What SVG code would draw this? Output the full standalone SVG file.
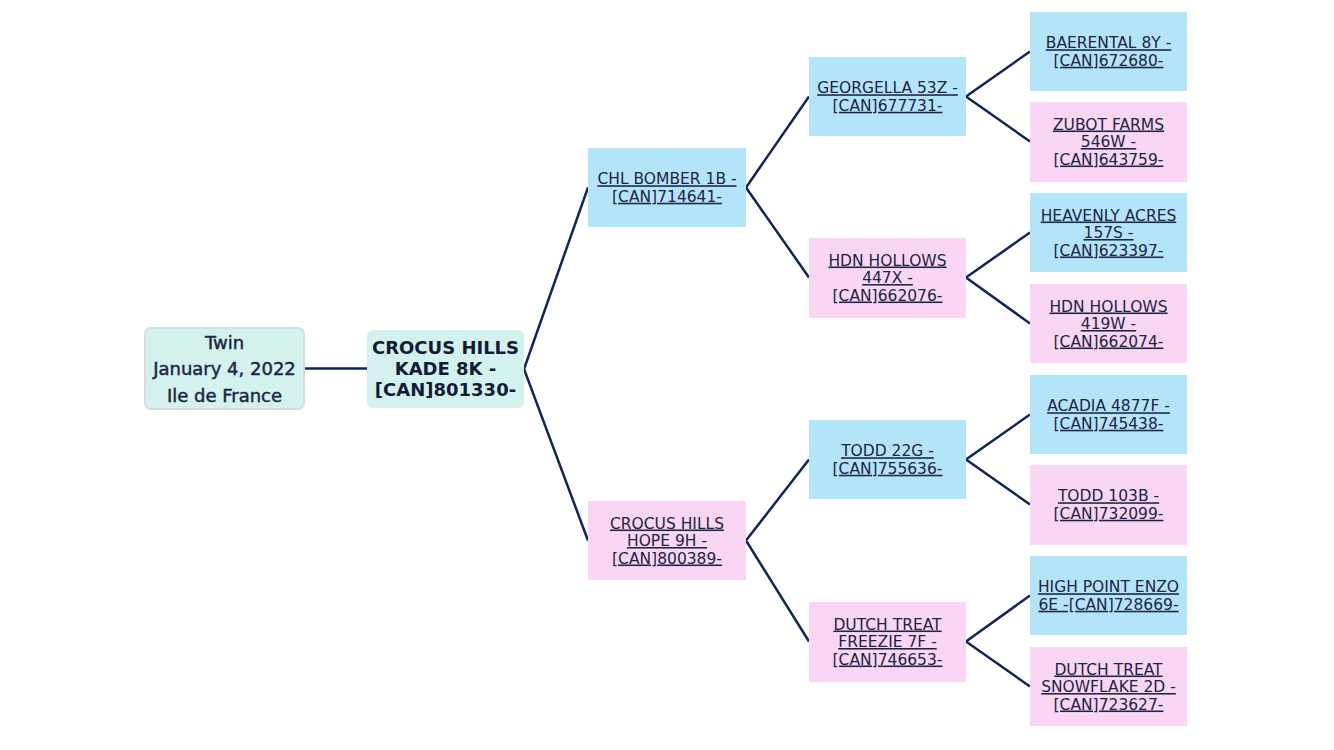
<svg xmlns="http://www.w3.org/2000/svg" width="1334" height="750" viewBox="0 0 1334 750">
<style>
.bg{fill:#ffffff}
.blue{fill:#b4e4fa}
.pink{fill:#f9d6f4}
.teal{fill:#d3f1ed}
.t{font-family:"DejaVu Sans","Verdana",sans-serif;font-size:15.5px;fill:#1c2445;text-anchor:middle;text-decoration:underline}
.rt{font-family:"DejaVu Sans","Verdana",sans-serif;font-size:18px;fill:#1c2445;stroke:#1c2445;stroke-width:0.45;text-anchor:middle}
.kb{font-family:"DejaVu Sans","Verdana",sans-serif;font-size:18px;font-weight:bold;fill:#121a36;text-anchor:middle}
.c{fill:none;stroke:#102658;stroke-width:2.5}
</style>
<rect class="bg" width="1334" height="750"/>
<g id="connectors">
<path class="c" d="M304,368.5 H367"/>
<path class="c" d="M588,187.5 L524,369 L588,540.5"/>
<path class="c" d="M809,96.5 L746,187.5 L809,277.5"/>
<path class="c" d="M809,459.5 L746,540.5 L809,641.5"/>
<path class="c" d="M1030,51.5 L966,96.5 L1030,141.5"/>
<path class="c" d="M1030,232.5 L966,277.5 L1030,323.5"/>
<path class="c" d="M1030,414.5 L966,459.5 L1030,504.5"/>
<path class="c" d="M1030,595.5 L966,641.5 L1030,686.5"/>
</g>
<g id="root">
<rect class="teal" x="145" y="328" width="159" height="81" rx="6" stroke="#d6dcdb" stroke-width="2"/>
<text class="rt" x="224.5" y="348.5">Twin</text>
<text class="rt" x="224.5" y="375">January 4, 2022</text>
<text class="rt" x="224.5" y="401.5">Ile de France</text>
</g>
<g id="kade">
<rect class="teal" x="367" y="330" width="157" height="78" rx="6"/>
<text class="kb" x="445.5" y="353.5">CROCUS HILLS</text>
<text class="kb" x="445.5" y="374.5">KADE 8K -</text>
<text class="kb" x="445.5" y="395.5">[CAN]801330-</text>
</g>
<g id="chl-bomber">
<rect class="blue" x="588" y="148" width="158" height="79"/>
<text class="t" x="667" y="184.25">CHL BOMBER 1B -</text>
<text class="t" x="667" y="201.75">[CAN]714641-</text>
</g>
<g id="crocus-hope">
<rect class="pink" x="588" y="501" width="158" height="79"/>
<text class="t" x="667" y="528.5">CROCUS HILLS</text>
<text class="t" x="667" y="546">HOPE 9H -</text>
<text class="t" x="667" y="563.5">[CAN]800389-</text>
</g>
<g id="georgella">
<rect class="blue" x="809" y="57" width="157" height="79"/>
<text class="t" x="887.5" y="93.25">GEORGELLA 53Z -</text>
<text class="t" x="887.5" y="110.75">[CAN]677731-</text>
</g>
<g id="hdn-447x">
<rect class="pink" x="809" y="238" width="157" height="80"/>
<text class="t" x="887.5" y="265.5">HDN HOLLOWS</text>
<text class="t" x="887.5" y="283">447X -</text>
<text class="t" x="887.5" y="300.5">[CAN]662076-</text>
</g>
<g id="todd-22g">
<rect class="blue" x="809" y="420" width="157" height="79"/>
<text class="t" x="887.5" y="456.25">TODD 22G -</text>
<text class="t" x="887.5" y="473.75">[CAN]755636-</text>
</g>
<g id="dutch-freezie">
<rect class="pink" x="809" y="602" width="157" height="80"/>
<text class="t" x="887.5" y="629.5">DUTCH TREAT</text>
<text class="t" x="887.5" y="647">FREEZIE 7F -</text>
<text class="t" x="887.5" y="664.5">[CAN]746653-</text>
</g>
<g id="baerental">
<rect class="blue" x="1030" y="12" width="157" height="79"/>
<text class="t" x="1108.5" y="48.25">BAERENTAL 8Y -</text>
<text class="t" x="1108.5" y="65.75">[CAN]672680-</text>
</g>
<g id="zubot">
<rect class="pink" x="1030" y="102" width="157" height="80"/>
<text class="t" x="1108.5" y="129.5">ZUBOT FARMS</text>
<text class="t" x="1108.5" y="147">546W -</text>
<text class="t" x="1108.5" y="164.5">[CAN]643759-</text>
</g>
<g id="heavenly">
<rect class="blue" x="1030" y="193" width="157" height="79"/>
<text class="t" x="1108.5" y="220.5">HEAVENLY ACRES</text>
<text class="t" x="1108.5" y="238">157S -</text>
<text class="t" x="1108.5" y="255.5">[CAN]623397-</text>
</g>
<g id="hdn-419w">
<rect class="pink" x="1030" y="284" width="157" height="79"/>
<text class="t" x="1108.5" y="311.5">HDN HOLLOWS</text>
<text class="t" x="1108.5" y="329">419W -</text>
<text class="t" x="1108.5" y="346.5">[CAN]662074-</text>
</g>
<g id="acadia">
<rect class="blue" x="1030" y="375" width="157" height="79"/>
<text class="t" x="1108.5" y="411.25">ACADIA 4877F -</text>
<text class="t" x="1108.5" y="428.75">[CAN]745438-</text>
</g>
<g id="todd-103b">
<rect class="pink" x="1030" y="465" width="157" height="80"/>
<text class="t" x="1108.5" y="501.25">TODD 103B -</text>
<text class="t" x="1108.5" y="518.75">[CAN]732099-</text>
</g>
<g id="high-point">
<rect class="blue" x="1030" y="556" width="157" height="79"/>
<text class="t" x="1108.5" y="592.25">HIGH POINT ENZO</text>
<text class="t" x="1108.5" y="609.75">6E -[CAN]728669-</text>
</g>
<g id="dutch-snowflake">
<rect class="pink" x="1030" y="647" width="157" height="79"/>
<text class="t" x="1108.5" y="674.5">DUTCH TREAT</text>
<text class="t" x="1108.5" y="692">SNOWFLAKE 2D -</text>
<text class="t" x="1108.5" y="709.5">[CAN]723627-</text>
</g>
</svg>
